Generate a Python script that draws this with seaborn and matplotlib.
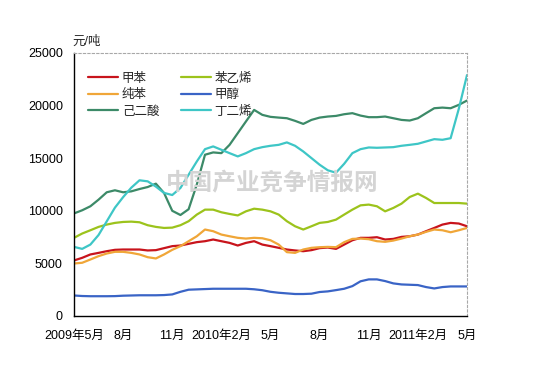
import matplotlib
matplotlib.use("Agg")
import matplotlib.pyplot as plt
import seaborn as sns
import pandas as pd
import numpy as np

# half-month steps, 2009-05 .. 2011-05
months = np.arange(0, 24.5, 0.5)
tick_pos = [0, 3, 6, 9, 12, 15, 18, 21, 24]
tick_labels = ["2009年5月", "8月", "11月", "2010年2月", "5月", "8月", "11月", "2011年2月", "5月"]

toluene = [5280, 5530, 5850, 6000, 6160, 6290, 6320, 6320, 6320, 6230, 6260, 6450, 6640,
           6700, 6860, 7020, 7110, 7270, 7110, 6950, 6700, 6950, 7110, 6790, 6640,
           6480, 6320, 6230, 6160, 6260, 6450, 6510, 6380, 6790, 7200, 7430, 7430,
           7490, 7270, 7330, 7520, 7580, 7740, 8060, 8370, 8690, 8850, 8790, 8530]
benzene = [4990, 5060, 5370, 5690, 5940, 6100, 6100, 6000, 5850, 5590, 5470, 5850, 6290,
           6640, 7110, 7580, 8220, 8060, 7740, 7580, 7430, 7360, 7430, 7390, 7200,
           6790, 6070, 6000, 6320, 6480, 6540, 6570, 6540, 7020, 7330, 7360, 7300,
           7110, 7050, 7170, 7360, 7580, 7740, 8000, 8220, 8150, 7960, 8150, 8370]
adipic = [9750, 10050, 10430, 11060, 11760, 11950, 11760, 11850, 12070, 12260, 12580, 11690, 10000,
          9600, 10150, 12500, 15330, 15550, 15480, 16270, 17380, 18490, 19590, 19120, 18930,
          18860, 18800, 18550, 18260, 18640, 18860, 18960, 19020, 19180, 19280, 19050, 18900,
          18900, 18960, 18800, 18640, 18580, 18800, 19280, 19750, 19810, 19750, 20070, 20480]
styrene = [7430, 7840, 8150, 8470, 8690, 8850, 8940, 8970, 8910, 8630, 8470, 8370, 8400,
           8630, 9010, 9640, 10110, 10110, 9860, 9700, 9560, 9950, 10200, 10110, 9950,
           9640, 9010, 8530, 8220, 8530, 8850, 8940, 9160, 9640, 10110, 10520, 10590,
           10430, 9950, 10270, 10680, 11310, 11630, 11220, 10740, 10740, 10740, 10740, 10680]
methanol = [1950, 1900, 1880, 1880, 1880, 1890, 1930, 1950, 1970, 1970, 1970, 1990, 2050,
            2300, 2500, 2530, 2560, 2590, 2590, 2590, 2590, 2590, 2540, 2450, 2300,
            2210, 2150, 2090, 2090, 2120, 2280, 2340, 2460, 2590, 2840, 3300, 3480,
            3480, 3320, 3100, 3000, 2970, 2940, 2750, 2620, 2750, 2810, 2810, 2810]
butadiene = [6570, 6380, 6790, 7700, 9000, 10300, 11300, 12200, 12900, 12800, 12300, 11700, 11500,
             12170, 13430, 14690, 15860, 16120, 15800, 15480, 15170, 15480, 15860, 16050, 16180,
             16270, 16500, 16180, 15640, 15010, 14380, 13850, 13620, 14470, 15480, 15860, 16020,
             15990, 16020, 16050, 16180, 16270, 16370, 16590, 16810, 16750, 16900, 19700, 22900]

names = ["甲苯", "纯苯", "己二酸", "苯乙烯", "甲醇", "丁二烯"]
series = [toluene, benzene, adipic, styrene, methanol, butadiene]
colors = ["#C8141C", "#F0A638", "#3C8A68", "#9CC31C", "#3A64C6", "#3EC6C6"]

df = pd.concat([pd.DataFrame({"month": months, "price": s, "name": n})
                for n, s in zip(names, series)])

sns.set_style("white")
plt.rcParams['font.family'] = ['Liberation Sans', 'Noto Sans CJK SC']
plt.rcParams['font.size'] = 9

fig = plt.figure(figsize=(5.45, 3.68), dpi=100)
ax = fig.add_axes([74/545, 1-316/368, 393/545, 263/368])

fig.text(0.5, 1-183/368, "中国产业竞争情报网", ha="center", va="center", fontsize=17,
         fontweight="bold", color="#d4d4d4", family=["Noto Sans CJK SC"], zorder=0)

sns.lineplot(data=df, x="month", y="price", hue="name", palette=dict(zip(names, colors)),
             hue_order=names, linewidth=1.6, ax=ax)

ax.set_xlim(0, 24)
ax.set_ylim(0, 25000)
ax.set_xticks(tick_pos)
ax.set_xticklabels(tick_labels)
ax.set_yticks([0, 5000, 10000, 15000, 20000, 25000])
ax.set_yticklabels(["0", "5000", "10000", "15000", "20000", "25000"])
ax.set_xlabel("")
ax.set_ylabel("")
ax.tick_params(axis="both", direction="in", length=3, width=0.8, colors="black", labelsize=9)
ax.tick_params(axis="x", pad=10)
ax.tick_params(axis="y", pad=8)

for s in ["left", "bottom"]:
    ax.spines[s].set_color("black")
    ax.spines[s].set_linewidth(1)
for s in ["top", "right"]:
    ax.spines[s].set_color("#a8a8a8")
    ax.spines[s].set_linestyle((0, (2, 2)))
    ax.spines[s].set_linewidth(0.8)

ax.text(-0.005, 1.02, "元/吨", transform=ax.transAxes, ha="left", va="bottom", fontsize=9)

ax.legend(loc="upper left", bbox_to_anchor=(0.036, 0.925), ncol=2, frameon=False,
          borderaxespad=0, borderpad=0, handlelength=2.4, handletextpad=0.3,
          labelspacing=0.35, columnspacing=1.7, fontsize=9)

fig.savefig("out.png", dpi=100)
